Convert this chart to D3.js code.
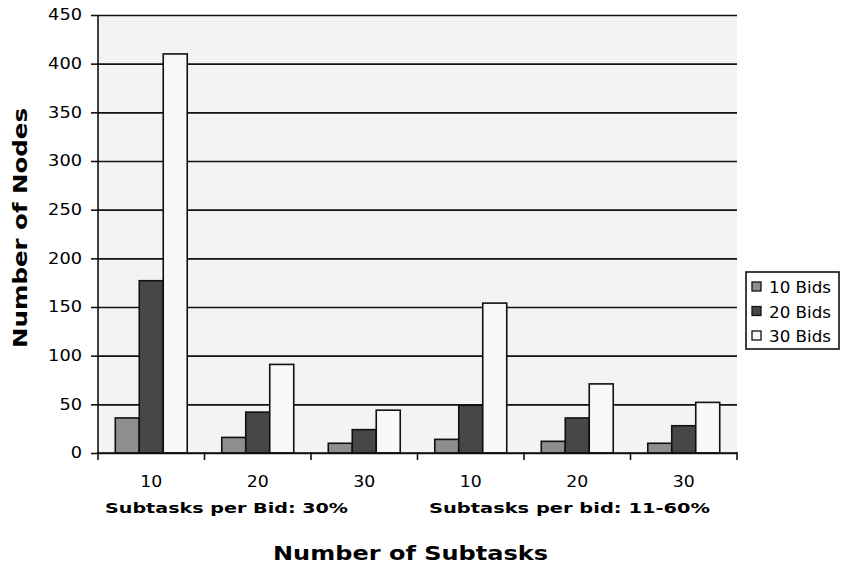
<html>
<head>
<script src="https://d3js.org/d3.v7.min.js"></script>
<style>
  body { margin: 0; background: #fff; }
  text { font-family: "DejaVu Sans", sans-serif; fill: #000; }
  .tick text { font-size: 15.5px; }
  .title { font-weight: bold; font-size: 19px; }
  .sub { font-weight: bold; font-size: 14.5px; }
</style>
</head>
<body>
<svg id="chart" width="841" height="569"></svg>
<script>
// data
const subtasks = ["10", "20", "30", "10", "20", "30"];
const series = ["10 Bids", "20 Bids", "30 Bids"];
const bids10 = [36, 16, 10, 14, 12, 10];
const bids20 = [177, 42, 24, 49, 36, 28];
const bids30 = [410, 91, 44, 154, 71, 52];
const yTicks = [0, 50, 100, 150, 200, 250, 300, 350, 400, 450];
const groupLabels = ["Subtasks per Bid: 30%", "Subtasks per bid: 11-60%"];

const svg = d3.select("svg#chart");
const margin = { top: 15, right: 104, bottom: 116, left: 98 };
const chartWidth = 841 - margin.left - margin.right;
const chartHeight = 569 - margin.top - margin.bottom;
const colors = ["#8e8e8e", "#474747", "#f9f9f9"];

const values = subtasks.map((s, i) => ({ key: i, label: s, vals: [bids10[i], bids20[i], bids30[i]] }));

const x0 = d3.scaleBand().domain(d3.range(subtasks.length)).range([0, chartWidth]).paddingInner(0);
const x1 = d3.scaleBand().domain(series).range([0, x0.bandwidth()]).paddingInner(0).paddingOuter(0.72);
const y = d3.scaleLinear().domain([0, 450]).range([chartHeight, 0]);

const chart = svg.append("g").attr("transform", `translate(${margin.left},${margin.top})`);

chart.append("rect")
    .attr("width", chartWidth).attr("height", chartHeight)
    .attr("fill", "#f3f3f3");

// gridlines
chart.append("g")
    .attr("class", "grid")
    .call(d3.axisLeft(y).tickValues(yTicks).tickSize(-chartWidth).tickFormat(""))
    .call(g => g.select(".domain").remove())
    .call(g => g.selectAll("line").attr("stroke", "#111").attr("stroke-width", 1.6));

// bars
const groups = chart.selectAll("g.group")
    .data(values)
    .join("g")
    .attr("class", "group")
    .attr("transform", d => `translate(${x0(d.key)},0)`);

groups.selectAll("rect")
    .data(d => d.vals.map((v, j) => ({ s: series[j], v: v, j: j })))
    .join("rect")
    .attr("x", d => x1(d.s))
    .attr("width", x1.bandwidth())
    .attr("y", d => y(d.v))
    .attr("height", d => chartHeight - y(d.v))
    .attr("fill", d => colors[d.j])
    .attr("stroke", "#111")
    .attr("stroke-width", 1.6);

// y axis
chart.append("g")
    .attr("class", "y axis")
    .call(d3.axisLeft(y).tickValues(yTicks).tickSize(7).tickPadding(9))
    .call(g => g.selectAll("path, line").attr("stroke", "#111").attr("stroke-width", 1.6))
    .call(g => g.select(".domain").attr("d", `M0,${chartHeight}V0`))
    .call(g => g.selectAll("text").attr("textLength", d => String(d).length * 11.3).attr("lengthAdjust", "spacingAndGlyphs"));

// x axis: boundary ticks between groups
const xAxis = chart.append("g")
    .attr("class", "x axis")
    .attr("transform", `translate(0,${chartHeight})`);
xAxis.append("line")
    .attr("x1", 0).attr("x2", chartWidth)
    .attr("stroke", "#111").attr("stroke-width", 1.6);
xAxis.selectAll("line.sep")
    .data(d3.range(subtasks.length + 1))
    .join("line")
    .attr("class", "sep")
    .attr("x1", d => d * x0.step()).attr("x2", d => d * x0.step())
    .attr("y1", -1).attr("y2", 7)
    .attr("stroke", "#111").attr("stroke-width", 1.6);
xAxis.selectAll("text.cat")
    .data(values)
    .join("text")
    .attr("class", "cat")
    .attr("x", d => x0(d.key) + x0.bandwidth() / 2)
    .attr("y", 34)
    .attr("text-anchor", "middle")
    .style("font-size", "15.5px")
    .attr("textLength", 22)
    .attr("lengthAdjust", "spacingAndGlyphs")
    .text(d => d.label);

// group sub-labels
const subPos = [[7, 243], [331, 281]];
xAxis.selectAll("text.sub")
    .data(groupLabels)
    .join("text")
    .attr("class", "sub")
    .attr("x", (d, i) => subPos[i][0])
    .attr("y", 60)
    .attr("textLength", (d, i) => subPos[i][1])
    .attr("lengthAdjust", "spacingAndGlyphs")
    .text(d => d);

// axis titles
svg.append("text")
    .attr("class", "title")
    .attr("x", 273).attr("y", 560)
    .attr("textLength", 275)
    .attr("lengthAdjust", "spacingAndGlyphs")
    .text("Number of Subtasks");

svg.append("text")
    .attr("class", "title")
    .attr("transform", "translate(27,348) rotate(-90)")
    .attr("textLength", 240)
    .attr("lengthAdjust", "spacingAndGlyphs")
    .text("Number of Nodes");

// legend
const legend = svg.append("g").attr("transform", "translate(746,272)");
legend.append("rect")
    .attr("width", 93).attr("height", 77)
    .attr("fill", "#fff").attr("stroke", "#111").attr("stroke-width", 1.6);
const items = legend.selectAll("g.item")
    .data(series)
    .join("g")
    .attr("class", "item")
    .attr("transform", (d, i) => `translate(6,${15 + i * 24.5})`);
items.append("rect")
    .attr("x", 0).attr("y", -5).attr("width", 9).attr("height", 9)
    .attr("fill", (d, i) => colors[i])
    .attr("stroke", "#111").attr("stroke-width", 1.3);
items.append("text")
    .attr("x", 17).attr("y", 6)
    .style("font-size", "15.5px")
    .attr("textLength", 62)
    .attr("lengthAdjust", "spacingAndGlyphs")
    .text(d => d);
</script>
</body>
</html>
